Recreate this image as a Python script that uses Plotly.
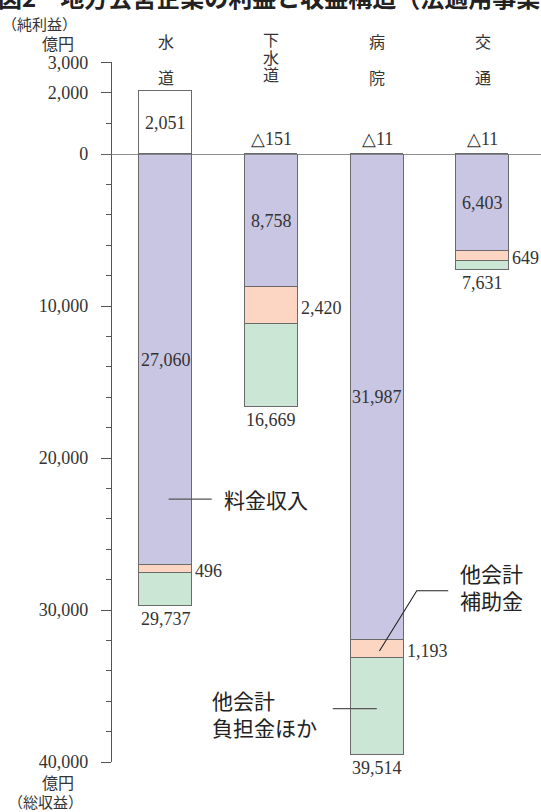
import plotly.graph_objects as go

# ---- data ----
cat_chars = [["水", "道"], ["下", "水", "道"], ["病", "院"], ["交", "通"]]
net_profit = [2051, -151, -11, -11]
fee_income = [27060, 8758, 31987, 6403]
subsidy = [496, 2420, 1193, 649]
other_contrib = [2181, 5491, 6334, 579]
total_revenue = [29737, 16669, 39514, 7631]
lower_ticks = [10000, 20000, 30000, 40000]
upper_ticks = [0, 2000, 3000]

W, H = 541, 812
def py(p):
    return 1 - p / H
def px(p):
    return p / W

C_FEE = "#c8c6e2"
C_SUB = "#fcd5c3"
C_OTH = "#cce6d5"
LINE = "#6a6a6a"
TXT = "#333333"
NUMFONT = "Liberation Serif"
JFONT = "Noto Sans CJK JP"

xs = list(range(len(fee_income)))
BW = 0.5

fig = go.Figure()
for vals, col in [(fee_income, C_FEE), (subsidy, C_SUB), (other_contrib, C_OTH)]:
    fig.add_trace(go.Bar(x=xs, y=vals, width=BW, marker=dict(color=col, line=dict(color=LINE, width=1.3)),
                         xaxis="x", yaxis="y", showlegend=False, hoverinfo="skip"))
fig.add_trace(go.Bar(x=xs, y=[max(v, 0) for v in net_profit], width=BW,
                     marker=dict(color="white", line=dict(color=LINE, width=1.3)),
                     xaxis="x", yaxis="y2", showlegend=False, hoverinfo="skip"))

ann = []
numf = dict(family=NUMFONT, size=18, color=TXT)
for i in xs:
    ann.append(dict(x=i, y=fee_income[i] / 2, xref="x", yref="y", text=f"{fee_income[i]:,}",
                    showarrow=False, font=numf))
    ann.append(dict(x=i + BW / 2, y=fee_income[i] + subsidy[i] / 2, xref="x", yref="y",
                    text=f"{subsidy[i]:,}", showarrow=False, xanchor="left", xshift=1, yshift=-2, font=numf))
    ann.append(dict(x=i, y=total_revenue[i], xref="x", yref="y", text=f"{total_revenue[i]:,}",
                    showarrow=False, yanchor="top", yshift=-1, font=numf))
    p = net_profit[i]
    if p >= 0:
        ann.append(dict(x=i, y=p / 2, xref="x", yref="y2", text=f"{p:,}", showarrow=False, font=numf))
    else:
        ann.append(dict(x=i, y=0, xref="x", yref="y2", text=f"△{-p:,}", showarrow=False,
                        yanchor="bottom", yshift=3, font=numf))
    chars = cat_chars[i]
    ys = [41, 77] if len(chars) == 2 else [39, 56.5, 74]
    for ch, yy in zip(chars, ys):
        ann.append(dict(x=i, y=py(yy), xref="x", yref="paper", text=ch, showarrow=False,
                        xanchor="center", yanchor="middle",
                        font=dict(family=JFONT, size=16, color=TXT)))

cf = dict(family=JFONT, size=21, color="#222222")
ann.append(dict(x=0.53, y=22700, xref="x", yref="y", text="料金収入", showarrow=False,
                xanchor="left", yanchor="middle", font=cf))
ann.append(dict(x=2.766, y=28450, xref="x", yref="y", text="他会計<br>補助金", showarrow=False,
                xanchor="left", yanchor="middle", align="left", font=cf))
ann.append(dict(x=0.42, y=36776, xref="x", yref="y", text="他会計<br>負担金ほか", showarrow=False,
                xanchor="left", yanchor="middle", align="left", font=cf))

sf = dict(family=JFONT, size=15, color=TXT)
ann.append(dict(x=px(79), y=py(23), xref="paper", yref="paper", text="（純利益）", showarrow=False,
                xanchor="right", yanchor="middle", font=sf))
ann.append(dict(x=px(76), y=py(43), xref="paper", yref="paper", text="億円", showarrow=False,
                xanchor="right", yanchor="middle", font=dict(family=JFONT, size=16, color=TXT)))
ann.append(dict(x=px(58), y=py(782), xref="paper", yref="paper", text="億円", showarrow=False,
                xanchor="center", yanchor="middle", font=dict(family=JFONT, size=16, color=TXT)))
ann.append(dict(x=px(45), y=py(801), xref="paper", yref="paper", text="（総収益）", showarrow=False,
                xanchor="center", yanchor="middle", font=sf))
ann.append(dict(x=px(-4), y=py(-3), xref="paper", yref="paper",
                text="<b>図2　地方公営企業の利益と収益構造（法適用事業）</b>", showarrow=False,
                xanchor="left", yanchor="middle", font=dict(family=JFONT, size=24, color="#222222")))

shapes = [
    dict(type="line", xref="paper", yref="y", x0=px(102), x1=1, y0=0, y1=0,
         line=dict(color=LINE, width=1.3), layer="above"),
    dict(type="line", xref="x", yref="y", x0=0.03, x1=0.437, y0=22700, y1=22700,
         line=dict(color="#555555", width=1.2)),
    dict(type="path", xref="x", yref="y", path="M 2.022,32697 L 2.375,28730 L 2.672,28730",
         line=dict(color="#222222", width=1.1)),
    dict(type="line", xref="x", yref="y", x0=1.581, x1=1.997, y0=36493, y1=36493,
         line=dict(color="#555555", width=1.2)),
]

axis_common = dict(showline=True, linecolor="#555555", linewidth=1.3, ticks="outside", ticklen=10,
                   tickcolor="#555555", tickwidth=1.3, showgrid=False, zeroline=False, automargin=False,
                   tickfont=dict(family=NUMFONT, size=18, color=TXT), ticklabelstandoff=9)

fig.update_layout(
    width=W, height=H, margin=dict(l=0, r=0, t=0, b=0, pad=0, autoexpand=False),
    paper_bgcolor="white", plot_bgcolor="white", barmode="stack", bargap=0,
    xaxis=dict(domain=[px(112), 1], range=[-0.5057, 3.549], visible=False, fixedrange=True, automargin=False),
    yaxis=dict(domain=[py(762), py(154)], range=[40000, 0], tickvals=lower_ticks,
               ticktext=[f"{v:,}" for v in lower_ticks],
               minor=dict(dtick=2000, tick0=0, ticks="outside", ticklen=5, tickcolor="#555555", tickwidth=1.3),
               anchor="x", **axis_common),
    yaxis2=dict(domain=[py(154), py(62.3)], range=[0, 3000], tickvals=upper_ticks,
                ticktext=[f"{v:,}" for v in upper_ticks],
                minor=dict(dtick=1000, tick0=0, ticks="outside", ticklen=5, tickcolor="#555555", tickwidth=1.3),
                anchor="x", **axis_common),
    annotations=ann, shapes=shapes,
)

fig.write_html("out.html")
